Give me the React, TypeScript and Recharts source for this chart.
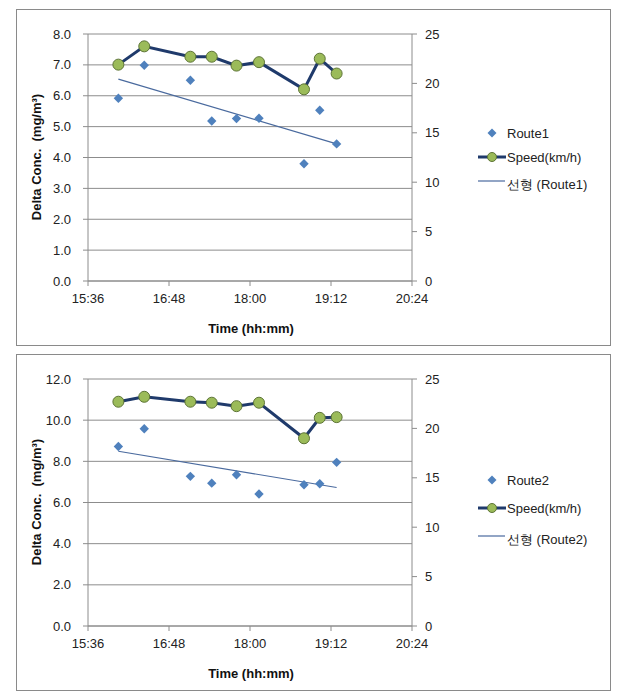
import React from 'react';
import { ComposedChart, Line, XAxis, YAxis, CartesianGrid } from 'recharts';

const times = ['16:03', '16:26', '17:07', '17:26', '17:48', '18:08', '18:48', '19:02', '19:17'];
const route1 = [5.92, 6.99, 6.5, 5.18, 5.26, 5.27, 3.8, 5.53, 4.44];
const speed1 = [21.9, 23.75, 22.7, 22.7, 21.8, 22.15, 19.4, 22.5, 21.0];
const trend1 = [6.54, null, null, null, null, null, null, null, 4.44];
const route2 = [8.72, 9.58, 7.27, 6.94, 7.35, 6.41, 6.86, 6.91, 7.95];
const speed2 = [22.7, 23.2, 22.7, 22.6, 22.25, 22.6, 19.0, 21.07, 21.14];
const trend2 = [8.49, null, null, null, null, null, null, null, 6.73];

const timeTicks = ['15:36', '16:48', '18:00', '19:12', '20:24'];
const leftTicks1 = [0, 1, 2, 3, 4, 5, 6, 7, 8];
const leftTicks2 = [0, 2, 4, 6, 8, 10, 12];
const rightTicks = [0, 5, 10, 15, 20, 25];

const FONT = '"Liberation Sans", Arial, sans-serif';
const BLUE = '#4F81BD';
const NAVY = '#1F3A6B';
const GREEN = '#9BBB59';
const TREND = '#4A6A9E';

const toMin = (t: string) => {
  const [h, m] = t.split(':').map(Number);
  return h * 60 + m;
};
const fmtTime = (v: number) => {
  const h = Math.floor(v / 60);
  const m = Math.round(v % 60);
  return `${h}:${m < 10 ? '0' + m : m}`;
};

const Diamond = (props: any) => {
  const { cx, cy, index } = props;
  if (cx == null || cy == null) return <g key={`d${index}`} />;
  const r = 4.7;
  return (
    <polygon
      key={`d${index}`}
      points={`${cx},${cy - r} ${cx + r},${cy} ${cx},${cy + r} ${cx - r},${cy}`}
      fill={BLUE}
    />
  );
};

interface PanelProps {
  route: (number | null)[];
  speed: number[];
  trend: (number | null)[];
  routeName: string;
  leftTicks: number[];
  legendRows: number[];
  top: number;
}

const Panel: React.FC<PanelProps> = ({ route, speed, trend, routeName, leftTicks, legendRows, top }) => {
  const data = times.map((t, i) => ({ t: toMin(t), route: route[i], speed: speed[i], trend: trend[i] }));
  const ticks = timeTicks.map(toMin);
  const axisTick = { fill: '#222', fontSize: 13, fontFamily: FONT };
  const legendText: React.CSSProperties = {
    position: 'absolute',
    left: 507,
    fontSize: 13,
    fontFamily: FONT,
    color: '#222',
    whiteSpace: 'nowrap',
    transform: 'translateY(-50%)',
  };
  return (
    <div style={{ position: 'absolute', left: 0, top, width: 626, height: 345 }}>
      <div
        style={{
          position: 'absolute',
          left: 16,
          top: 9,
          width: 595,
          height: 337,
          border: '1px solid #8a8a8a',
          boxSizing: 'border-box',
        }}
      />
      <div style={{ position: 'absolute', left: 0, top: 0 }}>
        <ComposedChart width={626} height={345} data={data} margin={{ top: 34, left: 48, right: 174, bottom: 34 }}>
          <CartesianGrid yAxisId="left" vertical={false} stroke="#8c8c8c" />
          <XAxis
            dataKey="t"
            type="number"
            domain={[ticks[0], ticks[ticks.length - 1]]}
            ticks={ticks}
            tickFormatter={fmtTime}
            height={30}
            stroke="#8c8c8c"
            tickSize={5}
            tickMargin={8}
            tick={axisTick}
          />
          <YAxis
            yAxisId="left"
            domain={[leftTicks[0], leftTicks[leftTicks.length - 1]]}
            ticks={leftTicks}
            tickFormatter={(v: number) => v.toFixed(1)}
            width={40}
            stroke="#8c8c8c"
            tickSize={5}
            tickMargin={12}
            tick={axisTick}
          />
          <YAxis
            yAxisId="right"
            orientation="right"
            domain={[0, 25]}
            ticks={rightTicks}
            width={40}
            stroke="#8c8c8c"
            tickSize={5}
            tickMargin={8}
            tick={axisTick}
          />
          <Line
            yAxisId="left"
            dataKey="trend"
            stroke={TREND}
            strokeWidth={1.2}
            dot={false}
            connectNulls
            isAnimationActive={false}
          />
          <Line
            yAxisId="left"
            dataKey="route"
            stroke="none"
            strokeWidth={0}
            dot={Diamond}
            activeDot={false}
            isAnimationActive={false}
          />
          <Line
            yAxisId="right"
            dataKey="speed"
            stroke={NAVY}
            strokeWidth={3}
            dot={{ r: 5.5, fill: GREEN, stroke: '#5d7436', strokeWidth: 1 }}
            isAnimationActive={false}
          />
        </ComposedChart>
      </div>
      <div
        style={{
          position: 'absolute',
          left: 36,
          top: 157,
          transform: 'translate(-50%, -50%) rotate(-90deg)',
          fontFamily: FONT,
          fontWeight: 'bold',
          fontSize: 13,
          color: '#111',
          whiteSpace: 'nowrap',
        }}
      >
        Delta Conc.&nbsp; (mg/m³)
      </div>
      <div
        style={{
          position: 'absolute',
          left: 251,
          top: 328,
          transform: 'translate(-50%, -50%)',
          fontFamily: FONT,
          fontWeight: 'bold',
          fontSize: 13,
          color: '#111',
          whiteSpace: 'nowrap',
        }}
      >
        Time (hh:mm)
      </div>
      <svg style={{ position: 'absolute', left: 0, top: 0 }} width={626} height={345}>
        <polygon
          points={`492,${legendRows[0] - 4.5} 496.5,${legendRows[0]} 492,${legendRows[0] + 4.5} 487.5,${legendRows[0]}`}
          fill={BLUE}
        />
        <line x1={478} x2={506} y1={legendRows[1]} y2={legendRows[1]} stroke={NAVY} strokeWidth={3} />
        <circle cx={492} cy={legendRows[1]} r={4.5} fill={GREEN} stroke="#5d7436" strokeWidth={1} />
        <line x1={478} x2={505} y1={legendRows[2] - 4} y2={legendRows[2] - 4} stroke={TREND} strokeWidth={1.2} />
      </svg>
      <div style={{ ...legendText, top: legendRows[0] }}>{routeName}</div>
      <div style={{ ...legendText, top: legendRows[1] }}>Speed(km/h)</div>
      <div style={{ ...legendText, top: legendRows[2] }}>선형 ({routeName})</div>
    </div>
  );
};

export default function App() {
  return (
    <div style={{ position: 'absolute', left: 0, top: 0, width: 626, height: 694, background: '#fff' }}>
      <Panel
        route={route1}
        speed={speed1}
        trend={trend1}
        routeName="Route1"
        leftTicks={leftTicks1}
        legendRows={[133, 157, 185]}
        top={0}
      />
      <Panel
        route={route2}
        speed={speed2}
        trend={trend2}
        routeName="Route2"
        leftTicks={leftTicks2}
        legendRows={[135, 163, 195]}
        top={345}
      />
    </div>
  );
}
